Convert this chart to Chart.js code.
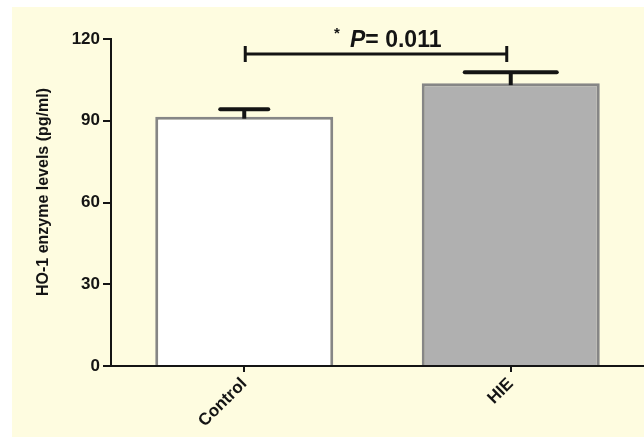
<!DOCTYPE html>
<html>
<head>
<meta charset="utf-8">
<script src="https://cdn.jsdelivr.net/npm/chart.js@4"></script>
<style>
  html, body { margin: 0; padding: 0; background: #fff; }
  #chart { display: block; }
</style>
</head>
<body>
<canvas id="chart" width="644" height="437"></canvas>
<script>
// data
const groups = ["Control", "HIE"];
const means = [91.5, 103.8];
const sems = [2.7, 4.0];
const yTicks = [0, 30, 60, 90, 120];
const bracketLevel = 114.5;
const pText = "= 0.011";

const FONT = "'Liberation Sans', Arial, sans-serif";
const INK = "#141414";

// cream panel behind the plot
const panel = {
  id: "panel",
  beforeDraw(chart) {
    const ctx = chart.ctx;
    ctx.save();
    ctx.fillStyle = "#ffffff";
    ctx.fillRect(0, 0, chart.width, chart.height);
    ctx.fillStyle = "#fefce0";
    ctx.fillRect(12, 7, chart.width - 12, chart.height - 7);
    ctx.restore();
  }
};

// SEM bars, significance bracket and the y title
const extras = {
  id: "extras",
  afterDraw(chart, args, opts) {
    const { ctx, scales: { x, y } } = chart;
    ctx.save();
    ctx.strokeStyle = INK;
    ctx.fillStyle = INK;

    means.forEach((m, i) => {
      const cx = x.getPixelForValue(i);
      const top = y.getPixelForValue(m + sems[i]);
      const base = y.getPixelForValue(m);
      ctx.lineWidth = 4;
      ctx.lineCap = "butt";
      ctx.beginPath();
      ctx.moveTo(cx, base + 2);
      ctx.lineTo(cx, top);
      ctx.stroke();
      ctx.lineCap = "round";
      ctx.beginPath();
      ctx.moveTo(cx - opts.capHalf[i], top);
      ctx.lineTo(cx + opts.capHalf[i], top);
      ctx.stroke();
    });

    // bracket between the two groups
    const x0 = x.getPixelForValue(0) + 1;
    const x1 = x.getPixelForValue(1) - 4;
    const yb = y.getPixelForValue(bracketLevel);
    ctx.lineCap = "butt";
    ctx.lineWidth = 3;
    ctx.beginPath();
    ctx.moveTo(x0, yb);
    ctx.lineTo(x1, yb);
    ctx.moveTo(x0, yb - 8);
    ctx.lineTo(x0, yb + 8);
    ctx.moveTo(x1, yb - 8);
    ctx.lineTo(x1, yb + 8);
    ctx.stroke();

    const mid = (x0 + x1) / 2;
    const baseLine = yb - 7;
    ctx.textBaseline = "alphabetic";
    ctx.textAlign = "left";
    ctx.font = "bold 15px " + FONT;
    ctx.fillText("*", mid - 42, baseLine - 9);
    ctx.font = "italic bold 23px " + FONT;
    ctx.fillText("P", mid - 26, baseLine);
    const pw = ctx.measureText("P").width;
    ctx.font = "bold 23px " + FONT;
    ctx.fillText(pText, mid - 26 + pw, baseLine);

    // y axis title
    ctx.translate(44, 192);
    ctx.rotate(-Math.PI / 2);
    ctx.textAlign = "center";
    ctx.textBaseline = "middle";
    ctx.font = "bold 16px " + FONT;
    ctx.fillText("HO-1 enzyme levels (pg/ml)", 0, 0);
    ctx.restore();
  }
};

new Chart(document.getElementById("chart"), {
  type: "bar",
  data: {
    labels: groups,
    datasets: [{
      data: means,
      backgroundColor: ["#ffffff", "#b0b0b0"],
      borderColor: "#868686",
      borderWidth: 3,
      borderSkipped: "start",
      categoryPercentage: 1,
      barPercentage: 0.668
    }]
  },
  options: {
    responsive: false,
    animation: false,
    devicePixelRatio: 1,
    layout: { padding: { top: 39, left: 0, right: 0, bottom: 0 } },
    plugins: {
      legend: { display: false },
      tooltip: { enabled: false },
      extras: { capHalf: [24, 46] }
    },
    scales: {
      x: {
        z: 1,
        afterFit: s => { s.height = 71; },
        grid: {
          offset: false,
          drawOnChartArea: false,
          drawTicks: true,
          tickLength: 6,
          color: INK,
          lineWidth: 2
        },
        border: { display: true, color: INK, width: 2 },
        ticks: {
          minRotation: 45,
          maxRotation: 45,
          padding: 2,
          color: INK,
          font: { family: FONT, size: 17, weight: "bold" }
        }
      },
      y: {
        z: 1,
        min: 0,
        max: 120,
        afterFit: s => { s.width = 111; },
        afterBuildTicks: s => { s.ticks = yTicks.map(v => ({ value: v })); },
        grid: {
          drawOnChartArea: false,
          drawTicks: true,
          tickLength: 8,
          color: INK,
          lineWidth: 2
        },
        border: { display: true, color: INK, width: 2 },
        ticks: {
          padding: 3,
          color: INK,
          font: { family: FONT, size: 17, weight: "bold" }
        }
      }
    }
  },
  plugins: [panel, extras]
});
</script>
</body>
</html>
